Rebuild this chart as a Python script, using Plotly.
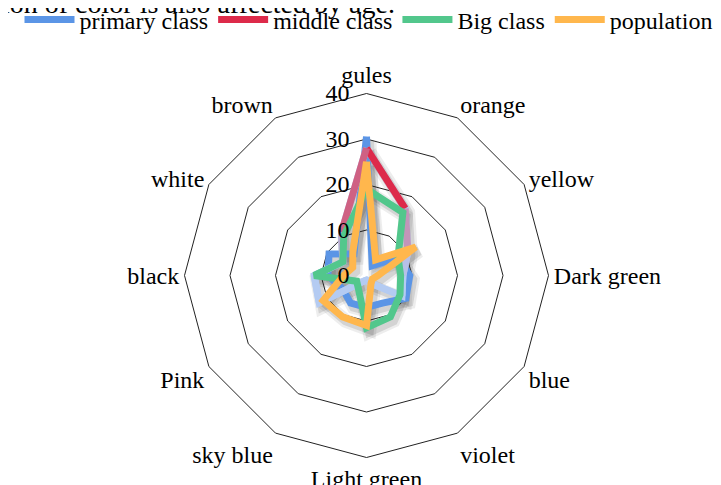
import math
import plotly.graph_objects as go

categories = ["gules", "orange", "yellow", "Dark green", "blue", "violet",
              "Light green", "sky blue", "Pink", "black", "white", "brown"]
primary_class = [30.5, 2.5, 8, 9.5, 10, 7, 7, 7, 6, 8.5, 9.5, 5.5]
middle_class = [28, 17, 10.5, 8, 9, 2, 1, 1.5, 12, 11.5, 6, 11]
big_class = [19, 16, 8, 7.5, 8.5, 10.5, 11.5, 3.5, 2.5, 11.5, 6, 10]
population = [25, 4, 12.5, 2.5, 1.5, 2, 11, 10.5, 11, 5, 3.5, 6]
radial_ticks = [0, 10, 20, 30, 40]
title_text = "ion of color is also affected by age."

FONT = "Liberation Serif"
W, H = 721, 485
CX, CY, R = 358.5, 267.5, 182

def closed(v):
    return list(v) + [v[0]]

cats_closed = closed(categories)

fig = go.Figure()

# ---- shadow layer (subplot "polar", slightly offset) ----
for vals in [primary_class, middle_class, big_class, population]:
    fig.add_trace(go.Scatterpolar(r=closed(vals), theta=cats_closed, mode="lines",
                                  line=dict(color="rgba(0,0,0,0.07)", width=14),
                                  hoverinfo="skip", showlegend=False, subplot="polar"))
    fig.add_trace(go.Scatterpolar(r=closed(vals), theta=cats_closed, mode="lines",
                                  line=dict(color="rgba(0,0,0,0.11)", width=9),
                                  hoverinfo="skip", showlegend=False, subplot="polar"))

LW = 7
fig.add_trace(go.Scatterpolar(r=closed(primary_class), theta=cats_closed, mode="lines",
                              name="primary class", line=dict(color="#5b95e6", width=LW),
                              subplot="polar2"))

# middle class with vertical gradient (red top -> light blue bottom)
top_c = (221, 42, 74)
bot_c = (180, 203, 242)
n = len(categories)
heights = [middle_class[i] * math.cos(math.radians(30 * i)) for i in range(n)]
hmax, hmin = max(heights), min(heights)

def grad(h):
    t = (hmax - h) / (hmax - hmin)
    t = min(1, max(0, t * 1.25))
    c = [round(a + (b - a) * t) for a, b in zip(top_c, bot_c)]
    return "rgb(%d,%d,%d)" % tuple(c)

fig.add_trace(go.Scatterpolar(r=closed(middle_class), theta=cats_closed, mode="lines",
                              line=dict(color=grad(hmin), width=LW), hoverinfo="skip",
                              showlegend=False, legendgroup="mid", subplot="polar2"))
for i in range(n):
    j = (i + 1) % n
    hm = (heights[i] + heights[j]) / 2
    fig.add_trace(go.Scatterpolar(r=[middle_class[i], middle_class[j]],
                                  theta=[categories[i], categories[j]], mode="lines",
                                  name="middle class", legendgroup="mid",
                                  showlegend=(i == 0),
                                  line=dict(color=grad(hm) if i > 0 else "#dd2a4a", width=LW),
                                  subplot="polar2"))

fig.add_trace(go.Scatterpolar(r=closed(big_class), theta=cats_closed, mode="lines",
                              name="Big class", line=dict(color="#52c78c", width=LW),
                              subplot="polar2"))
fig.add_trace(go.Scatterpolar(r=closed(population), theta=cats_closed, mode="lines",
                              name="population", line=dict(color="#ffb74d", width=LW),
                              subplot="polar2"))

def dom(dx=0, dy=0):
    return dict(x=[(CX - R + dx) / W, (CX + R + dx) / W],
                y=[(H - CY - R - dy) / H, (H - CY + R - dy) / H])

fig.update_layout(
    width=W, height=H,
    margin=dict(l=0, r=0, t=0, b=0, autoexpand=False),
    paper_bgcolor="white",
    font=dict(family=FONT, size=24, color="#000"),
    polar=dict(
        domain=dom(3, 4), bgcolor="rgba(0,0,0,0)", gridshape="linear",
        radialaxis=dict(range=[0, 40], visible=False),
        angularaxis=dict(visible=False, direction="clockwise", rotation=90,
                         categoryorder="array", categoryarray=categories),
    ),
    polar2=dict(
        domain=dom(), bgcolor="rgba(0,0,0,0)", gridshape="linear",
        radialaxis=dict(range=[0, 40], tickvals=radial_ticks, angle=90, tickangle=90,
                        side="counterclockwise", showline=False,
                        ticks="outside", ticklen=8, tickcolor="rgba(0,0,0,0)",
                        gridcolor="#222", gridwidth=1,
                        tickfont=dict(family=FONT, size=24, color="#000")),
        angularaxis=dict(direction="clockwise", rotation=90, showgrid=False,
                         showline=True, linecolor="#222", linewidth=1, ticks="",
                         categoryorder="array", categoryarray=categories,
                         tickfont=dict(family=FONT, size=24, color="#000")),
    ),
    legend=dict(orientation="h", x=0.5, xanchor="center",
                y=1 + 10.5 / H, yanchor="top",
                font=dict(family=FONT, size=24, color="#000"),
                bgcolor="rgba(0,0,0,0)", itemwidth=50, tracegroupgap=0),
    annotations=[dict(text=title_text, xref="paper", yref="paper", x=-8 / W, y=1 + 5 / H,
                      xanchor="left", yanchor="middle", showarrow=False,
                      font=dict(family=FONT, size=28, color="#000"))],
    showlegend=True,
)

fig.write_html("out.html")
